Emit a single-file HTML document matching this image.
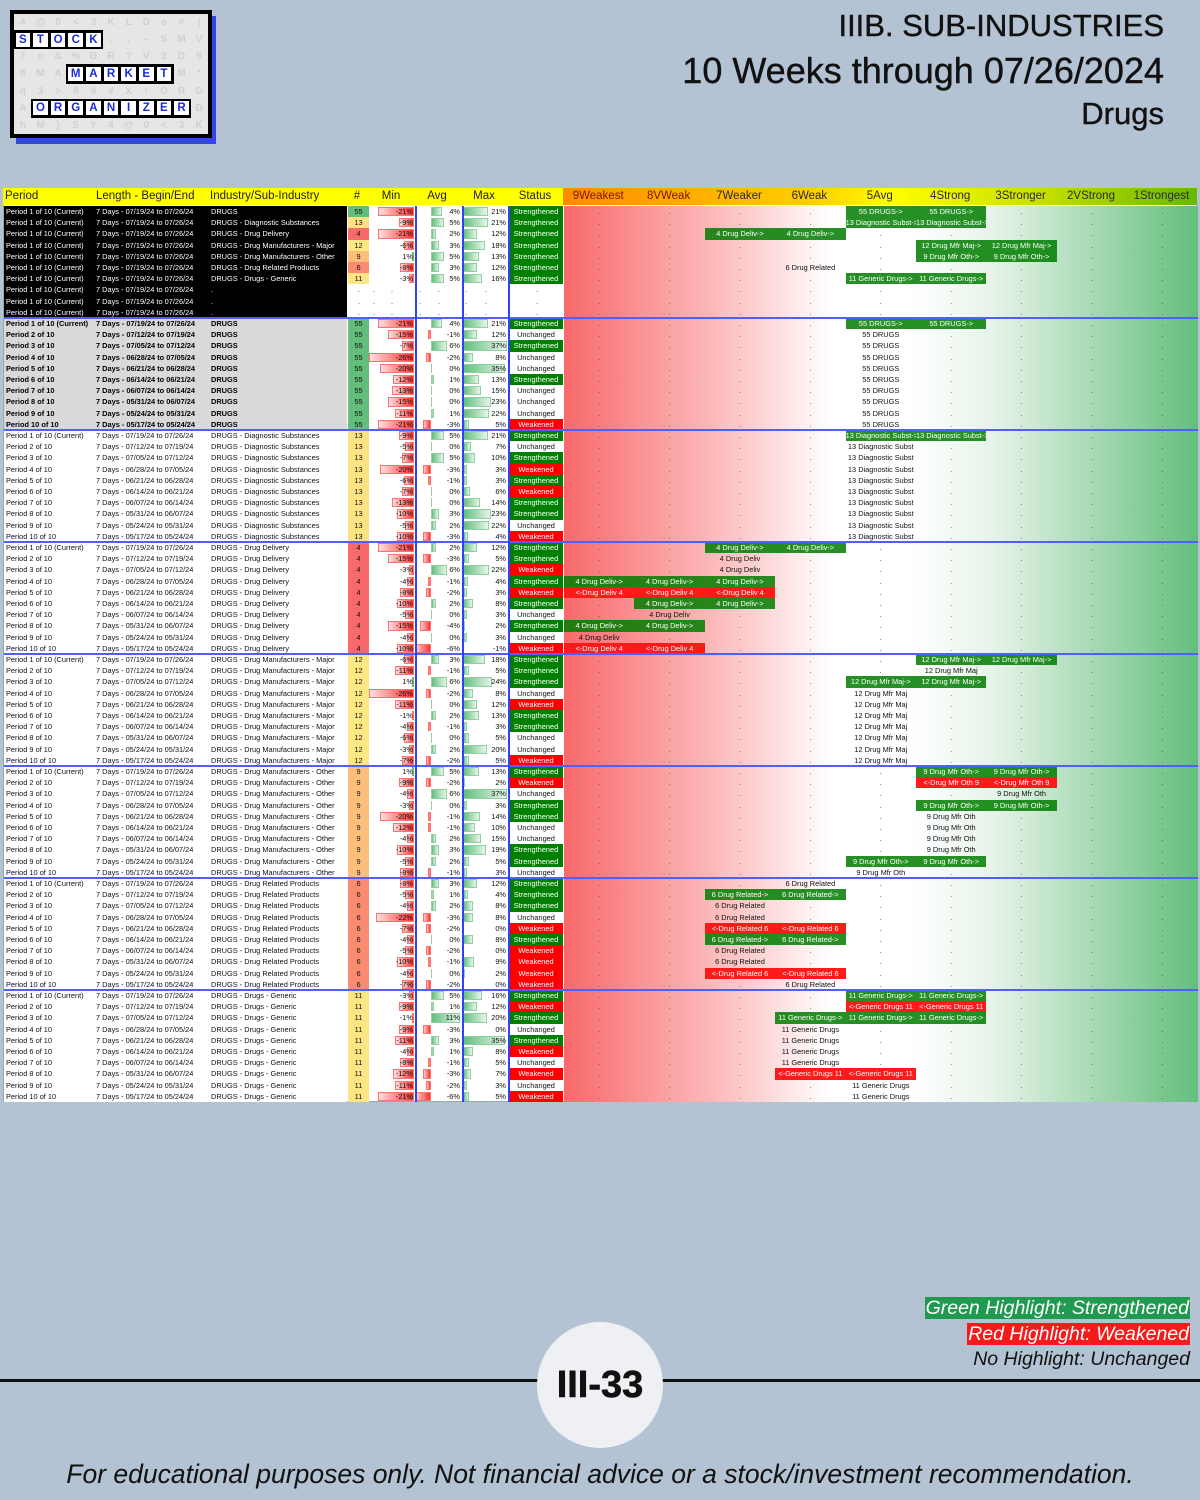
<!DOCTYPE html>
<html><head><meta charset="utf-8">
<style>
*{margin:0;padding:0;box-sizing:border-box}
body{width:1200px;height:1500px;background:#b3c3d3;position:relative;overflow:hidden;font-family:"Liberation Sans",sans-serif}
.abs{position:absolute}
.title{position:absolute;right:36px;text-align:right;color:#111;white-space:nowrap}
#table{position:absolute;left:3px;top:188px;width:1194px;height:914px;background:#fff;border:1px solid #9aa}
.c{position:absolute;font-size:7.4px;line-height:11.2px;height:11.2px;white-space:nowrap;overflow:hidden;color:#111}
.hd{position:absolute;top:188px;height:17px;font-size:11.5px;line-height:17px;color:#222;text-align:center}
.cell{position:absolute;width:17.6px;height:17px;display:flex;align-items:center;justify-content:center;font-size:10px;font-weight:bold}
</style></head>
<body>
<!-- Logo -->
<div class="abs" style="left:16px;top:16px;width:200px;height:128px;background:#3344ee"></div>
<div class="abs" style="left:10px;top:10px;width:202px;height:128px;background:#000;padding:4px">
  <div id="logo-grid" style="position:relative;width:194px;height:120px;background:#e6e6e6"></div>
</div>

<div class="title" style="top:8px;font-size:31px;-webkit-text-stroke:0.4px #111">IIIB. SUB-INDUSTRIES</div>
<div class="title" style="top:50px;font-size:36px;-webkit-text-stroke:0.4px #111">10 Weeks through 07/26/2024</div>
<div class="title" style="top:96px;font-size:31px;-webkit-text-stroke:0.4px #111">Drugs</div>

<div id="table"></div>

<!-- Legend -->
<div class="abs" style="right:10px;top:1297px;background:#1f9a4f;color:#fff;font-size:19.5px;font-style:italic;padding:0 1px;line-height:22px">Green Highlight: Strengthened</div>
<div class="abs" style="right:10px;top:1323px;background:#f51b1b;color:#fff;font-size:19.5px;font-style:italic;padding:0 1px;line-height:22px">Red Highlight: Weakened</div>
<div class="abs" style="right:10px;top:1348px;color:#111;font-size:19.5px;font-style:italic;line-height:22px">No Highlight: Unchanged</div>

<div class="abs" style="left:0;top:1379px;width:1200px;height:3px;background:#111"></div>
<div class="abs" style="left:537px;top:1322px;width:126px;height:126px;border-radius:50%;background:#eef0f4;display:flex;align-items:center;justify-content:center;font-size:38px;font-weight:bold;color:#111;-webkit-text-stroke:0.6px #111">III-33</div>
<div class="abs" style="left:0;width:1200px;top:1459px;text-align:center;font-size:26.5px;font-style:italic;color:#111">For educational purposes only. Not financial advice or a stock/investment recommendation.</div>

<script>
// ---------- DATA ----------
const periodLabels = ["Period 1 of 10 (Current)","Period 2 of 10","Period 3 of 10","Period 4 of 10","Period 5 of 10","Period 6 of 10","Period 7 of 10","Period 8 of 10","Period 9 of 10","Period 10 of 10"];
const dateRanges = ["07/19/24 to 07/26/24","07/12/24 to 07/19/24","07/05/24 to 07/12/24","06/28/24 to 07/05/24","06/21/24 to 06/28/24","06/14/24 to 06/21/24","06/07/24 to 06/14/24","05/31/24 to 06/07/24","05/24/24 to 05/31/24","05/17/24 to 05/24/24"];
const industryNames = ["DRUGS","DRUGS - Diagnostic Substances","DRUGS - Drug Delivery","DRUGS - Drug Manufacturers - Major","DRUGS - Drug Manufacturers - Other","DRUGS - Drug Related Products","DRUGS - Drugs - Generic"];
const shortNames = ["DRUGS","Diagnostic Subst","Drug Deliv","Drug Mfr Maj","Drug Mfr Oth","Drug Related","Generic Drugs"];
const memberCounts = [55,13,4,12,9,6,11];
const rankHeaders = ["9Weakest","8VWeak","7Weaker","6Weak","5Avg","4Strong","3Stronger","2VStrong","1Strongest"];

const minValues = [
 [-21,-15,-7,-26,-20,-12,-13,-15,-11,-21],
 [-9,-5,-7,-20,-6,-7,-13,-10,-5,-10],
 [-21,-15,-3,-4,-8,-10,-5,-15,-4,-10],
 [-6,-11,1,-26,-11,-1,-4,-6,-3,-7],
 [1,-9,-4,-3,-20,-12,-4,-10,-5,-8],
 [-8,-5,-4,-22,-7,-4,-5,-10,-4,-7],
 [-3,-9,-1,-9,-11,-4,-8,-12,-11,-21]];
const avgValues = [
 [4,-1,6,-2,0,1,0,0,1,-3],
 [5,0,5,-3,-1,0,0,3,2,-3],
 [2,-3,6,-1,-2,2,0,-4,0,-6],
 [3,-1,6,-2,0,2,-1,0,2,-2],
 [5,-2,6,0,-1,-1,2,3,2,-1],
 [3,1,2,-3,-2,0,-2,-1,0,-2],
 [5,1,11,-3,3,1,-1,-3,-2,-6]];
const maxValues = [
 [21,12,37,8,35,13,15,23,22,5],
 [21,7,10,3,3,6,14,23,22,4],
 [12,5,22,4,3,8,3,2,3,-1],
 [18,5,24,8,12,13,3,5,20,5],
 [13,2,37,3,14,10,15,19,5,3],
 [12,4,8,8,0,8,0,9,2,0],
 [16,12,20,0,35,8,5,7,3,5]];
const statusValues = [
 ["S","U","S","U","U","S","U","U","U","W"],
 ["S","U","S","W","S","W","S","S","U","W"],
 ["S","S","W","S","W","S","U","S","U","W"],
 ["S","S","S","U","W","S","S","U","U","W"],
 ["S","W","U","S","S","U","U","S","S","U"],
 ["S","S","S","U","W","S","W","W","W","W"],
 ["S","W","S","U","S","W","U","W","U","W"]];
// rank column moves: [type, fromCol, toCol]  (col 0 = 9Weakest ... 8 = 1Strongest)
const currentMoves = [["g",4,5],["g",4,5],["g",2,3],["g",5,6],["g",5,6],["p",3,3],["g",4,5]];
const sectionMoves = [
 [["g",4,5],["p",4,4],["p",4,4],["p",4,4],["p",4,4],["p",4,4],["p",4,4],["p",4,4],["p",4,4],["p",4,4]],
 [["g",4,5],["p",4,4],["p",4,4],["p",4,4],["p",4,4],["p",4,4],["p",4,4],["p",4,4],["p",4,4],["p",4,4]],
 [["g",2,3],["p",2,2],["p",2,2],["g",0,2],["r",0,2],["g",1,2],["p",1,1],["g",0,1],["p",0,0],["r",0,1]],
 [["g",5,6],["p",5,5],["g",4,5],["p",4,4],["p",4,4],["p",4,4],["p",4,4],["p",4,4],["p",4,4],["p",4,4]],
 [["g",5,6],["r",5,6],["p",6,6],["g",5,6],["p",5,5],["p",5,5],["p",5,5],["p",5,5],["g",4,5],["p",4,4]],
 [["p",3,3],["g",2,3],["p",2,2],["p",2,2],["r",2,3],["g",2,3],["p",2,2],["p",2,2],["r",2,3],["p",3,3]],
 [["g",4,5],["r",4,5],["g",3,5],["p",3,3],["p",3,3],["p",3,3],["p",3,3],["r",3,4],["p",4,4],["p",4,4]]];

// ---------- LOGO ----------
(function(){
  const g=document.getElementById('logo-grid');
  const filler="4@0<3KLDe#|STOCK..-SMV7o&%GR?V2D98MARKET*IM*q3>89#X!ORGANIZER4@0LDhM}SY";
  const words=[[1,0,"STOCK"],[3,3,"MARKET"],[5,1,"ORGANIZER"]];
  const cw=194/11, ch=120/7;
  for(let r=0;r<7;r++)for(let c=0;c<11;c++){
    const d=document.createElement('div');d.className='cell';
    
    
    d.style.left=(c*cw)+'px';d.style.top=(r*ch)+'px';d.style.width=cw+'px';d.style.height=ch+'px';
    d.style.color='#d0d0d0';d.textContent=filler[(r*11+c)%filler.length];
    g.appendChild(d);
  }
  words.forEach(([r,c0,w])=>{
    const box=document.createElement('div');
    
    
    box.style.cssText=`position:absolute;left:${c0*cw-1}px;top:${r*ch-1}px;width:${w.length*cw+2}px;height:${ch+2}px;background:#000;`;
    g.appendChild(box);
    for(let i=0;i<w.length;i++){
      const d=document.createElement('div');d.className='cell';
      
      
      d.style.cssText=`left:${(c0+i)*cw+1.5}px;top:${r*ch+1.5}px;width:${cw-3}px;height:${ch-3}px;background:#fff;color:#1a2bd8;font-size:11.5px;`;
      d.textContent=w[i];g.appendChild(d);
    }
  });
})();

// ---------- TABLE ----------
const T=document.getElementById('table');
const OX=3, OY=188; // table origin
const ROW0=205, RH=11.2;
const RC0=563, RCW=70.4;
const minScale=1.72, avgScale=2.65, maxScale=1.2, avgZero=430;
function colL(i){return RC0+i*RCW;}
function rowY(i){return ROW0+i*RH;}
function el(x,y,w,h,css,txt){
  const d=document.createElement('div');d.className='c';
  d.style.left=(x-OX)+'px';d.style.top=(y-OY)+'px';d.style.width=w+'px';d.style.height=h+'px';
  if(css)d.style.cssText+=css;
  if(txt!==undefined)d.textContent=txt;
  T.appendChild(d);return d;
}
function countColor(n){return {55:'#63be7b',13:'#ffe383',4:'#f8696b',12:'#ffe784',9:'#fcbf7b',6:'#f98b71',11:'#fee583'}[n]||'#fff';}

// right gradient background
const bg=el(RC0,ROW0,1197-RC0,RH*80,'background:linear-gradient(to right,#f8696b 0%,#fcc9c9 28%,#fff 42%,#fff 55%,#e6f3e8 68%,#63be7b 100%);');



// headers
const leftHdr=document.createElement('div');
leftHdr.className='hd';


leftHdr.style.cssText+='left:3px;width:560px;background:#ffff00;';
document.body.appendChild(leftHdr);
const hdrs=[["Period",5,"left"],["Length - Begin/End",96,"left"],["Industry/Sub-Industry",210,"left"],["#",357,"c"],["Min",391,"c"],["Avg",437,"c"],["Max",484,"c"],["Status",535,"c"]];
hdrs.forEach(([t,x,a])=>{
  const d=document.createElement('div');d.className='hd';
  
  
  if(a==='left'){d.style.left=x+'px';d.style.textAlign='left';}
  else{d.style.left=(x-40)+'px';d.style.width='80px';}
  d.textContent=t;document.body.appendChild(d);
});
const rightHdr=document.createElement('div');
rightHdr.className='hd';


rightHdr.style.cssText+=`left:${RC0}px;width:${1197-RC0}px;background:linear-gradient(to right,#ff8a00,#ffd000 40%,#ffff00 52%,#c8e000 75%,#66b800);`;
document.body.appendChild(rightHdr);
rankHeaders.forEach((t,i)=>{
  const d=document.createElement('div');d.className='hd';
  
  
  d.style.left=colL(i)+'px';d.style.width=RCW+'px';
  d.style.color=i<2?'#7a1500':'#2a2a2a';
  d.textContent=t;document.body.appendChild(d);
});

// row drawing
function drawRow(r,ind,p,mn,av,mx,st,mv,style){
  const y=rowY(r);
  const lb=el(3,y,343,RH,'background:'+style.bg+';');
  
  
  const tc='color:'+style.fg+';'+(style.bold?'font-weight:bold;':'');
  let d=el(5,y,90,RH,tc,periodLabels[p]);
  
  
  d=el(95,y,113,RH,tc,'7 Days - '+dateRanges[p]);
  
  
  d=el(210,y,136,RH,tc,ind===null?'.':industryNames[ind]);
  
  
  if(ind===null){
    [357,372,390,418,437,464,484,535].forEach(x=>{const q=el(x,y,4,RH,'',".");  });
  } else {
    const n=memberCounts[ind];
    d=el(347,y,21,RH,'background:'+countColor(n)+';text-align:center;',String(n));
    
    
    if(mn<0){const w=-mn*minScale;d=el(413-w,y+1,w,RH-2,'background:linear-gradient(to right,#ffe0e0,#ff3030);border:1px solid #ff7070;');}
    else{const w=Math.max(1,mn*minScale);d=el(413-w,y+1,w,RH-2,'background:#63be7b;');}
    
    
    d=el(368,y,44,RH,'text-align:right;',mn+'%');
    
    
    if(av<0){const w=-av*avgScale;d=el(avgZero-w,y+1,w,RH-2,'background:linear-gradient(to right,#ffd0d0,#ff3030);border:1px solid #ff7070;');}
    else if(av>0){const w=av*avgScale;d=el(avgZero,y+1,w,RH-2,'background:linear-gradient(to right,#63be7b,#e6f5ea);border:1px solid #8fd0a0;');}
    else{d=el(avgZero,y+1,1,RH-2,'background:#8fd0a0;');}
    
    
    d=el(414,y,45,RH,'text-align:right;',av+'%');
    
    
    if(mx>0){const w=mx*maxScale;d=el(462,y+1,w,RH-2,'background:linear-gradient(to right,#63be7b,#e6f5ea);border:1px solid #8fd0a0;');
      
      }
    d=el(461,y,44,RH,'text-align:right;',mx+'%');
    
    
    const sc={S:['#008000','#fff','Strengthened'],W:['#ff0000','#fff','Weakened'],U:['#fff','#111','Unchanged']}[st];
    d=el(508,y,54,RH,`background:${sc[0]};color:${sc[1]};text-align:center;`,sc[2]);
    
    
  }
  let used=[];
  if(mv){
    const [t,a,b]=mv;
    const lbl=t==='g'?`${memberCounts[ind]} ${shortNames[ind]}->`:t==='r'?`<-${shortNames[ind]} ${memberCounts[ind]}`:`${memberCounts[ind]} ${shortNames[ind]}`;
    if(t!=='p'){
      d=el(colL(a),y,colL(b+1)-colL(a),RH,'background:'+(t==='g'?'rgba(0,125,0,0.85)':'#ff1a1a')+';');
      
      
    }
    for(let i=a;i<=b;i++){
      used.push(i);
      d=el(colL(i),y,RCW,RH,'text-align:center;'+(t==='p'?'color:#111;':'color:#fff;'),lbl);
      
      
    }
  }
  for(let i=0;i<9;i++){ if(used.includes(i))continue;
    d=el(colL(i),y,RCW,RH,'text-align:center;color:#333;','.');
    
    
  }
}

for(let r=0;r<10;r++){
  const ind=r<7?r:null;
  drawRow(r,ind,0,ind!==null?minValues[ind][0]:0,ind!==null?avgValues[ind][0]:0,ind!==null?maxValues[ind][0]:0,ind!==null?statusValues[ind][0]:'U',ind!==null?currentMoves[ind]:null,{bg:'#000',fg:'#fff',bold:false});
}
for(let s=0;s<7;s++){
  for(let p=0;p<10;p++){
    const r=10+s*10+p;
    drawRow(r,s,p,minValues[s][p],avgValues[s][p],maxValues[s][p],statusValues[s][p],sectionMoves[s][p],s===0?{bg:'#d9d9d9',fg:'#000',bold:true}:{bg:'#fff',fg:'#111',bold:false});
  }
}
for(let s=1;s<8;s++){
  const d=el(3,rowY(s*10)-1,1194,2,'background:#5060ff;');
  
  
}
[414,461,507].forEach(x=>{
  const d=el(x,ROW0,1.5,RH*80,'background:#3040ff;');
  
  
});
</script>
</body></html>
